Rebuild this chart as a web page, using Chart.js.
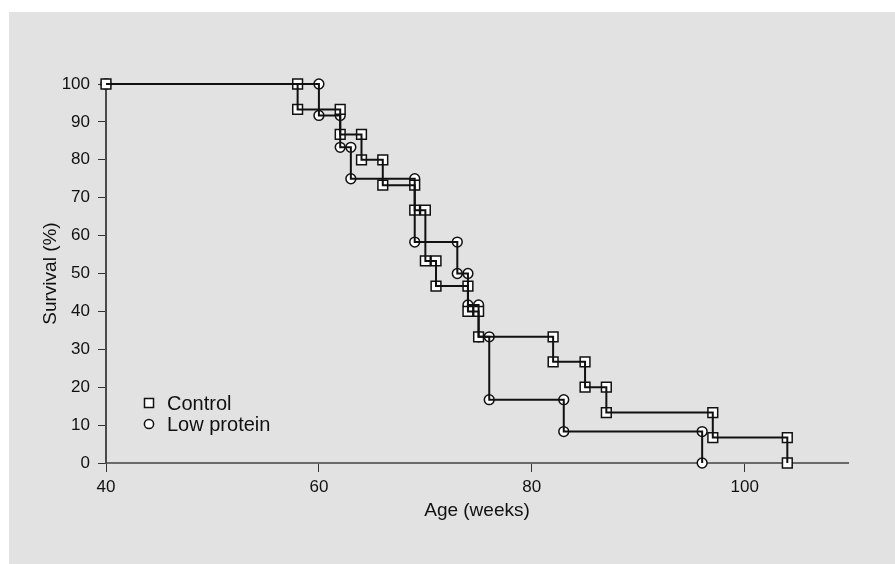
<!DOCTYPE html>
<html>
<head>
<meta charset="utf-8">
<script src="https://cdn.jsdelivr.net/npm/chart.js@4"></script>
<style>
  body { margin: 0; background: #fff; }
  #panel { position: absolute; left: 9px; top: 12px; width: 886px; height: 552px; background: #e2e2e2; }
</style>
</head>
<body>
<div id="panel"><canvas id="stage" width="886" height="552"></canvas></div>
<script>
// データ (Kaplan-Meier)
var startAge = 40;
var controlTimes = [58, 62, 64, 66, 69, 70, 71, 74, 75, 82, 85, 87, 97, 104];
var controlSurvival = [93.3, 86.7, 80, 73.3, 66.7, 53.3, 46.7, 40, 33.3, 26.7, 20, 13.3, 6.7, 0];
var lowTimes = [60, 62, 63, 69, 73, 74, 75, 76, 83, 96];
var lowSurvival = [91.7, 83.3, 75, 58.3, 50, 41.7, 33.3, 16.7, 8.3, 0];
var xTicks = [40, 60, 80, 100];
var yTicks = [0, 10, 20, 30, 40, 50, 60, 70, 80, 90, 100];
var seriesNames = ['Control', 'Low protein'];

var FONT = '"Liberation Sans", Arial, sans-serif';

// 階段状の点列
function steps(times, surv) {
  var pts = [{x: startAge, y: 100}];
  var prev = 100;
  for (var i = 0; i < times.length; i++) {
    pts.push({x: times[i], y: prev});
    pts.push({x: times[i], y: surv[i]});
    prev = surv[i];
  }
  return pts;
}

var controlPts = steps(controlTimes, controlSurvival);
var lowPts = steps(lowTimes, lowSurvival);

function markerSet(label, pts, style, r) {
  return {
    label: label, data: pts, showLine: false, clip: false, order: 2,
    pointStyle: style, pointRadius: r, pointHoverRadius: r,
    pointBackgroundColor: '#fff', pointBorderColor: '#111', pointBorderWidth: 1.5
  };
}
function lineSet(pts) {
  return {
    data: pts, showLine: true, clip: false, order: 1,
    borderColor: '#111', borderWidth: 2, pointRadius: 0, pointHoverRadius: 0
  };
}

// 凡例 (グラフ内左下)
var innerLegend = {
  id: 'innerLegend',
  afterDraw: function(chart) {
    var ctx = chart.ctx;
    var a = chart.chartArea;
    var x = a.left + 43;
    var rows = [a.bottom - 60, a.bottom - 39];
    ctx.save();
    ctx.lineWidth = 1.5;
    ctx.strokeStyle = '#111';
    ctx.fillStyle = '#fff';
    ctx.fillRect(x - 4.5, rows[0] - 4.5, 9, 9);
    ctx.strokeRect(x - 4.5, rows[0] - 4.5, 9, 9);
    ctx.beginPath();
    ctx.arc(x, rows[1], 4.6, 0, Math.PI * 2);
    ctx.fill();
    ctx.stroke();
    ctx.fillStyle = '#111';
    ctx.font = '20px ' + FONT;
    ctx.textBaseline = 'middle';
    ctx.fillText(seriesNames[0], a.left + 61, rows[0] + 1);
    ctx.fillText(seriesNames[1], a.left + 61, rows[1] + 1);
    ctx.restore();
  }
};

var canvas = document.getElementById('stage');
var chart = new Chart(canvas, {
  type: 'scatter',
  data: {
    datasets: [
      markerSet(seriesNames[0], controlPts, 'rect', 6.9),
      markerSet(seriesNames[1], lowPts, 'circle', 4.9),
      lineSet(controlPts),
      lineSet(lowPts)
    ]
  },
  options: {
    responsive: false,
    animation: false,
    devicePixelRatio: 1,
    layout: { padding: { left: 0, top: 72, right: 47, bottom: 36 } },
    plugins: { legend: { display: false }, tooltip: { enabled: false } },
    scales: {
      x: {
        type: 'linear', min: 40, max: 109.7,
        afterFit: function(s) { s.height = 65; },
        afterBuildTicks: function(s) { s.ticks = xTicks.map(function(v) { return {value: v}; }); },
        grid: { drawOnChartArea: false, drawTicks: true, tickLength: 9, color: '#333', lineWidth: 1 },
        border: { color: '#6a6a6a', width: 2 },
        ticks: { color: '#111', padding: 5, font: { family: FONT, size: 17 } },
        title: { display: true, text: 'Age (weeks)', color: '#111', padding: { top: 0, bottom: 6 }, font: { family: FONT, size: 19 } }
      },
      y: {
        type: 'linear', min: 0, max: 100,
        afterFit: function(s) { s.width = 97; },
        afterBuildTicks: function(s) { s.ticks = yTicks.map(function(v) { return {value: v}; }); },
        grid: { drawOnChartArea: false, drawTicks: true, tickLength: 8, color: '#333', lineWidth: 1 },
        border: { color: '#4a4a4a', width: 2 },
        ticks: { color: '#111', padding: 8, font: { family: FONT, size: 17 } },
        title: { display: true, text: 'Survival (%)', color: '#111', padding: { top: 30, bottom: 0 }, font: { family: FONT, size: 19 } }
      }
    }
  },
  plugins: [innerLegend]
});
</script>
</body>
</html>
